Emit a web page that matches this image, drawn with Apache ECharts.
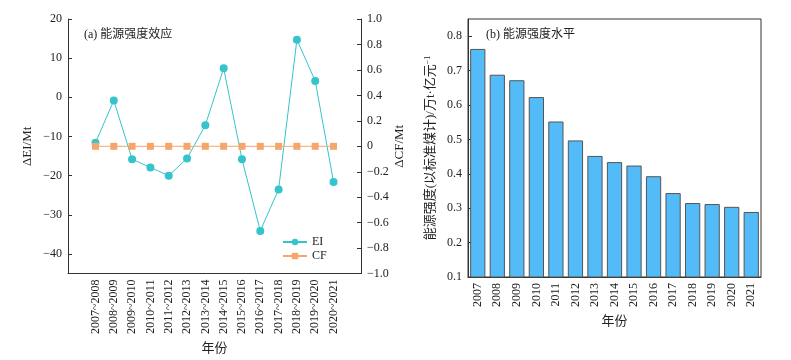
<!DOCTYPE html>
<html>
<head>
<meta charset="utf-8">
<script src="https://cdn.jsdelivr.net/npm/echarts@6/dist/echarts.min.js"></script>
<style>html,body{margin:0;padding:0;background:#fff}#c{width:791px;height:360px}</style>
</head>
<body>
<div id="c"></div>
<script>
var periods = ['2007~2008','2008~2009','2009~2010','2010~2011','2011~2012','2012~2013','2013~2014','2014~2015','2015~2016','2016~2017','2017~2018','2018~2019','2019~2020','2020~2021'];
var eiValues = [-11.6, -0.8, -15.8, -17.9, -20.0, -15.6, -7.1, 7.4, -15.8, -34.1, -23.5, 14.7, 4.2, -21.6];
var cfValues = [0, 0, 0, 0, 0, 0, 0, 0, 0, 0, 0, 0, 0, 0];
var eiTicks = [-40, -30, -20, -10, 0, 10, 20];
var cfTicks = [-1.0, -0.8, -0.6, -0.4, -0.2, 0, 0.2, 0.4, 0.6, 0.8, 1.0];
var years = ['2007','2008','2009','2010','2011','2012','2013','2014','2015','2016','2017','2018','2019','2020','2021'];
var intensity = [0.763, 0.688, 0.672, 0.623, 0.552, 0.497, 0.452, 0.434, 0.424, 0.393, 0.344, 0.315, 0.312, 0.304, 0.289];
var intensityTicks = [0.1, 0.2, 0.3, 0.4, 0.5, 0.6, 0.7, 0.8];

var FONT = '"Liberation Serif","Noto Sans CJK SC",serif';
var TXT = '#222';
var AX = '#333';
function minus(s){ return String(s).replace('-', '\u2212'); }

var cats = [''].concat(periods, ['']);
var eiData = [null].concat(eiValues, [null]);
var cfData = [null].concat(cfValues, [null]);

var chart = echarts.init(document.getElementById('c'), null, {renderer:'canvas'});
chart.setOption({
  animation: false,
  textStyle: {fontFamily: FONT, color: TXT},
  title: [
    {text: '(a) 能源强度效应', left: 79, top: 24, textStyle: {fontFamily: FONT, fontSize: 12, fontWeight: 'normal', color: TXT}},
    {text: '(b) 能源强度水平', left: 481, top: 24, textStyle: {fontFamily: FONT, fontSize: 12, fontWeight: 'normal', color: TXT}}
  ],
  legend: {
    orient: 'vertical', left: 282, top: 235, itemWidth: 24, itemHeight: 8, itemGap: 0,
    padding: 0,
    textStyle: {fontFamily: FONT, fontSize: 12, color: TXT, lineHeight: 14},
    data: ['EI', 'CF']
  },
  grid: [
    {left: 68, right: 430, top: 19, bottom: 83, show: false},
    {left: 468, right: 30, top: 19, bottom: 83, show: true, borderColor: AX, borderWidth: 1}
  ],
  xAxis: [
    {
      type: 'category', gridIndex: 0, data: cats, boundaryGap: true,
      axisLine: {onZero: false, lineStyle: {color: AX}},
      axisTick: {inside: true, length: 4, alignWithLabel: true, interval: 0, lineStyle: {color: AX}},
      axisLabel: {rotate: 90, interval: 0, fontSize: 12, color: TXT, fontFamily: FONT, margin: 6},
      name: '年份', nameLocation: 'middle', nameGap: 64,
      nameTextStyle: {fontFamily: FONT, fontSize: 13, color: TXT}
    },
    {
      type: 'category', gridIndex: 1, data: years,
      axisLine: {onZero: false, lineStyle: {color: AX}},
      axisTick: {show: false},
      axisLabel: {rotate: 90, interval: 0, fontSize: 12, color: TXT, fontFamily: FONT, margin: 6},
      name: '年份', nameLocation: 'middle', nameGap: 38,
      nameTextStyle: {fontFamily: FONT, fontSize: 13, color: TXT}
    }
  ],
  yAxis: [
    {
      type: 'value', gridIndex: 0, position: 'left', min: -45, max: 20,
      axisLine: {show: true, onZero: false, lineStyle: {color: AX}},
      axisTick: {show: true, inside: true, length: 4, customValues: eiTicks, lineStyle: {color: AX}},
      axisLabel: {customValues: eiTicks, fontSize: 12, color: TXT, fontFamily: FONT, margin: 6, formatter: function(v){return minus(v);}},
      splitLine: {show: false},
      name: 'ΔEI/Mt', nameLocation: 'middle', nameGap: 34,
      nameTextStyle: {fontFamily: FONT, fontSize: 13, color: TXT}
    },
    {
      type: 'value', gridIndex: 0, position: 'right', min: -1, max: 1,
      axisLine: {show: true, onZero: false, lineStyle: {color: AX}},
      axisTick: {show: true, inside: true, length: 4, customValues: cfTicks, lineStyle: {color: AX}},
      axisLabel: {customValues: cfTicks, fontSize: 12, color: TXT, fontFamily: FONT, margin: 6,
        formatter: function(v){ return Math.abs(v) < 1e-9 ? '0' : minus(v.toFixed(1)); }},
      splitLine: {show: false},
      name: 'ΔCF/Mt', nameLocation: 'middle', nameGap: 30,
      nameTextStyle: {fontFamily: FONT, fontSize: 13, color: TXT}
    },
    {
      type: 'value', gridIndex: 1, min: 0.1, max: 0.85,
      axisLine: {show: true, onZero: false, lineStyle: {color: AX}},
      axisTick: {show: true, inside: true, length: 4, customValues: intensityTicks, lineStyle: {color: AX}},
      axisLabel: {customValues: intensityTicks, fontSize: 12, color: TXT, fontFamily: FONT, margin: 6,
        formatter: function(v){ return v.toFixed(1); }},
      splitLine: {show: false},
      name: '{a|能源强度(以标准煤计)/万t·亿元}{s|−1}', nameLocation: 'middle', nameGap: 30,
      nameTextStyle: {fontFamily: FONT, fontSize: 13, color: TXT,
        rich: {a: {fontFamily: FONT, fontSize: 13, color: TXT}, s: {fontFamily: FONT, fontSize: 8, color: TXT, verticalAlign: 'top', padding: [0,0,6,0]}}}
    }
  ],
  series: [
    {
      name: 'EI', type: 'line', xAxisIndex: 0, yAxisIndex: 0, data: eiData,
      symbol: 'circle', symbolSize: 8, connectNulls: false,
      lineStyle: {color: '#35C3CC', width: 1}, itemStyle: {color: '#35C3CC'}, z: 2
    },
    {
      name: 'CF', type: 'line', xAxisIndex: 0, yAxisIndex: 1, data: cfData,
      symbol: 'rect', symbolSize: 7,
      lineStyle: {color: '#F5A66B', width: 1}, itemStyle: {color: '#F5A66B'}, z: 3
    },
    {
      name: 'intensity', type: 'bar', xAxisIndex: 1, yAxisIndex: 2, data: intensity,
      barCategoryGap: '22%',
      itemStyle: {color: '#52BBF8', borderColor: '#555', borderWidth: 1}
    }
  ]
});
</script>
</body>
</html>
